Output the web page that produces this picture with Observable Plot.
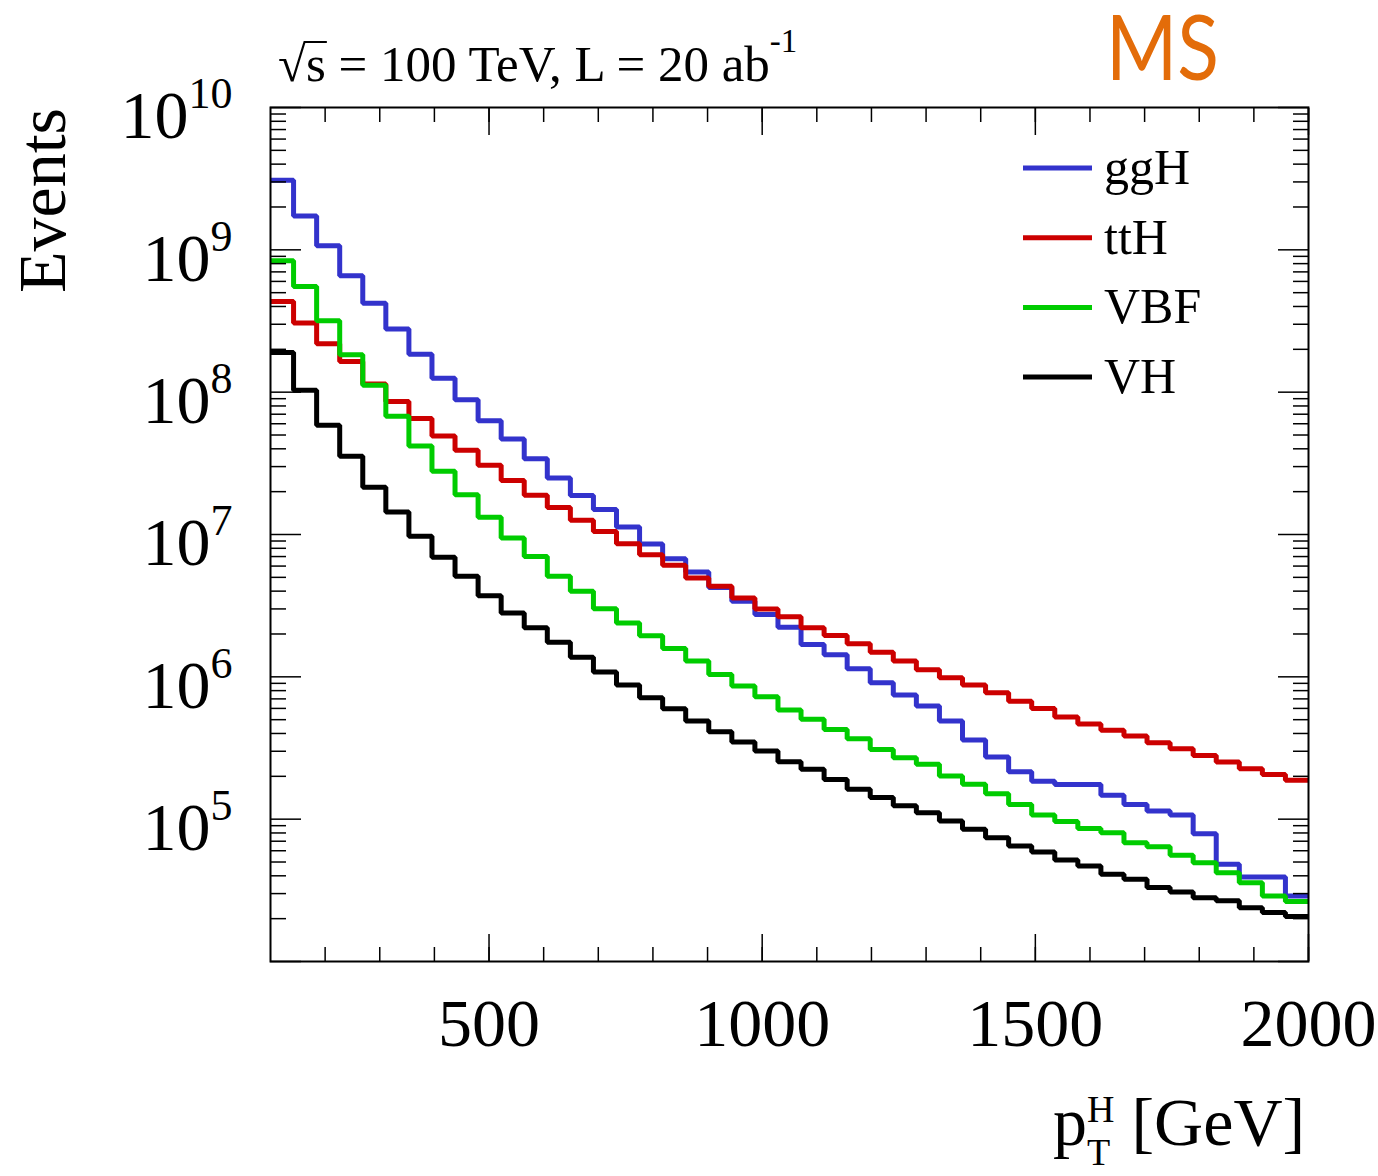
<!DOCTYPE html>
<html><head><meta charset="utf-8">
<script src="https://cdn.jsdelivr.net/npm/d3@7"></script>
<script src="https://cdn.jsdelivr.net/npm/@observablehq/plot@0.6"></script>
<style>
html,body{margin:0;padding:0;background:#fff;}
#wrap{position:relative;width:1378px;height:1176px;overflow:hidden;background:#fff;}
#wrap svg{position:absolute;left:0;top:0;}
</style></head><body><div id="wrap"></div>
<script>
// ---- data ----
const ptMin = 100, ptMax = 2000, nBins = 45;   // pT histogram binning [GeV]
const processes = ["ggH", "ttH", "VBF", "VH"];
const colors = ["#3333cc", "#cc0000", "#00cc00", "#000000"];
const ggH = [3.08e9, 1.73e9, 1.07e9, 6.57e8, 4.21e8, 2.78e8, 1.85e8, 1.25e8, 8.86e7, 6.31e7,
  4.68e7, 3.40e7, 2.49e7, 1.88e7, 1.50e7, 1.13e7, 8.58e6, 6.75e6, 5.46e6, 4.25e6,
  3.39e6, 2.74e6, 2.23e6, 1.69e6, 1.43e6, 1.14e6, 9.08e5, 7.44e5, 6.23e5, 4.89e5,
  3.60e5, 2.73e5, 2.15e5, 1.85e5, 1.75e5, 1.75e5, 1.47e5, 1.27e5, 1.14e5, 1.07e5,
  7.91e4, 4.82e4, 3.93e4, 3.93e4, 2.89e4];
const ttH = [4.34e8, 3.06e8, 2.19e8, 1.64e8, 1.14e8, 8.61e7, 6.52e7, 4.93e7, 3.90e7, 3.06e7,
  2.40e7, 1.89e7, 1.55e7, 1.26e7, 1.05e7, 8.62e6, 7.21e6, 6.08e6, 4.95e6, 4.33e6,
  3.58e6, 3.00e6, 2.64e6, 2.21e6, 1.95e6, 1.71e6, 1.49e6, 1.29e6, 1.12e6, 9.84e5,
  8.75e5, 7.72e5, 6.75e5, 5.99e5, 5.23e5, 4.66e5, 4.21e5, 3.84e5, 3.44e5, 3.12e5,
  2.80e5, 2.52e5, 2.26e5, 2.06e5, 1.88e5];
const VBF = [8.37e8, 5.52e8, 3.18e8, 1.83e8, 1.12e8, 6.76e7, 4.18e7, 2.78e7, 1.90e7, 1.32e7,
  9.45e6, 7.01e6, 5.09e6, 3.99e6, 3.01e6, 2.39e6, 1.94e6, 1.58e6, 1.29e6, 1.04e6,
  8.61e5, 7.24e5, 5.84e5, 5.03e5, 4.27e5, 3.67e5, 3.09e5, 2.70e5, 2.43e5, 2.01e5,
  1.76e5, 1.51e5, 1.27e5, 1.07e5, 9.64e4, 8.61e4, 8.04e4, 6.84e4, 6.41e4, 5.57e4,
  4.95e4, 4.21e4, 3.58e4, 2.89e4, 2.64e4];
const VH = [1.90e8, 1.03e8, 5.86e7, 3.54e7, 2.15e7, 1.44e7, 9.71e6, 6.92e6, 5.09e6, 3.72e6,
  2.81e6, 2.21e6, 1.75e6, 1.37e6, 1.08e6, 8.75e5, 7.12e5, 5.96e5, 4.89e5, 4.11e5,
  3.48e5, 3.01e5, 2.53e5, 2.24e5, 1.90e5, 1.62e5, 1.42e5, 1.24e5, 1.11e5, 9.71e4,
  8.48e4, 7.41e4, 6.48e4, 5.89e4, 5.17e4, 4.69e4, 4.10e4, 3.78e4, 3.31e4, 3.08e4,
  2.81e4, 2.67e4, 2.39e4, 2.21e4, 2.07e4];
const xTickLabels = [500, 1000, 1500, 2000];
const xMinorStep = 100;
const yDecades = [4, 5, 6, 7, 8, 9, 10];
const yDomain = [1e4, 1e10];

// ---- derived table ----
const series = [ggH, ttH, VBF, VH];
const binWidth = (ptMax - ptMin) / nBins;
const rows = [];
series.forEach((vals, i) => {
  vals.forEach((v, k) => rows.push({process: processes[i], pt: ptMin + k * binWidth, events: v}));
  rows.push({process: processes[i], pt: ptMax, events: vals[vals.length - 1]});
});
const xMinor = d3.range(ptMin + xMinorStep, ptMax + 1, xMinorStep);
const yMajor = yDecades.map(e => Math.pow(10, e));
const yMinor = yDecades.slice(0, -1).flatMap(e => d3.range(2, 10).map(m => m * Math.pow(10, e)));

const tick = {stroke: "black", strokeWidth: 1.5, fill: "none"};
const chart = Plot.plot({
  width: 1378, height: 1176,
  marginLeft: 270, marginRight: 70, marginTop: 107, marginBottom: 215,
  style: {fontFamily: "'Liberation Serif', 'Times New Roman', serif", background: "white", color: "black"},
  x: {domain: [ptMin, ptMax], axis: null},
  y: {type: "log", domain: yDomain, axis: null},
  color: {domain: processes, range: colors},
  marks: [
    Plot.line(rows, {x: "pt", y: "events", z: "process", stroke: "process", curve: "step-after",
      strokeWidth: 5, strokeLinejoin: "miter", strokeLinecap: "butt"}),
    // inward ticks on all four sides
    Plot.axisX(xMinor, {anchor: "bottom", tickSize: 14, dy: -14, ...tick}),
    Plot.axisX(xTickLabels, {anchor: "bottom", tickSize: 27, dy: -27, ...tick}),
    Plot.axisX(xMinor, {anchor: "top", tickSize: 14, dy: 14, ...tick}),
    Plot.axisX(xTickLabels, {anchor: "top", tickSize: 27, dy: 27, ...tick}),
    Plot.axisY(yMinor, {anchor: "left", tickSize: 16, dx: 16, ...tick}),
    Plot.axisY(yMajor, {anchor: "left", tickSize: 31, dx: 31, ...tick}),
    Plot.axisY(yMinor, {anchor: "right", tickSize: 16, dx: -16, ...tick}),
    Plot.axisY(yMajor, {anchor: "right", tickSize: 31, dx: -31, ...tick}),
    // tick labels
    Plot.axisX(xTickLabels, {anchor: "bottom", tickSize: 0, tickPadding: 36, fontSize: 68,
      tickFormat: d => String(d), label: null}),
    Plot.axisY(yMajor.slice(1), {anchor: "left", tickSize: 0, tickPadding: 38, fontSize: 68, dy: 9,
      tickFormat: d => String(Math.round(Math.log10(d))), label: null}),
    Plot.frame({stroke: "black", strokeWidth: 2})
  ]
});
document.getElementById("wrap").appendChild(chart);

// exponent superscripts on the log-axis labels
d3.select(chart).selectAll('g[aria-label="y-axis tick label"] text').each(function () {
  const e = this.textContent;
  const t = d3.select(this).text(null);
  t.append("tspan").text("10");
  t.append("tspan").attr("font-size", 44).attr("dy", -30).text(e);
});

// ---- annotations overlay ----
const ov = d3.select("#wrap").append("svg").attr("width", 1378).attr("height", 1176)
  .style("font-family", "'Liberation Serif', 'Times New Roman', serif").style("white-space", "pre");

const title = ov.append("text").attr("x", 278).attr("y", 81).attr("font-size", 51);
title.append("tspan").text("\u221As");
title.append("tspan").text(" = 100 TeV, L = 20 ab");
title.append("tspan").attr("font-size", 33).attr("dy", -29).text("-1");
// radical bar over "s"
const sq = title.node().getExtentOfChar(0), sc = title.node().getExtentOfChar(1);
ov.append("line").attr("x1", sq.x + sq.width - 2).attr("x2", sc.x + sc.width + 1)
  .attr("y1", sq.y + 6).attr("y2", sq.y + 6).attr("stroke", "black").attr("stroke-width", 2);

const msG = ov.append("g");
const ms = msG.append("text").attr("font-family", "Lato, 'Open Sans', sans-serif")
  .attr("font-size", 92).attr("fill", "#E36C09").text("MS");
const msLen = ms.node().getComputedTextLength();
msG.attr("transform", `translate(1106,80) scale(${113 / msLen},1)`);

ov.append("text").attr("transform", "translate(65,108) rotate(-90)").attr("text-anchor", "end")
  .attr("font-size", 68).text("Events");

const xt = ov.append("text").attr("x", 1053).attr("y", 1145).attr("font-size", 68);
xt.append("tspan").text("p");
xt.append("tspan").attr("font-size", 38).attr("dy", -23).text("H");
xt.append("tspan").attr("font-size", 38).attr("dx", -27.4).attr("dy", 43).text("T");
xt.append("tspan").attr("dx", 4.2).attr("dy", -20).text(" [GeV]");

const leg = ov.append("g");
processes.forEach((p, i) => {
  const y = 168 + i * 69.7;
  leg.append("line").attr("x1", 1023).attr("x2", 1092).attr("y1", y).attr("y2", y)
    .attr("stroke", colors[i]).attr("stroke-width", 5);
  leg.append("text").attr("x", 1104).attr("y", y + 16).attr("font-size", 50).text(p);
});
</script></body></html>
